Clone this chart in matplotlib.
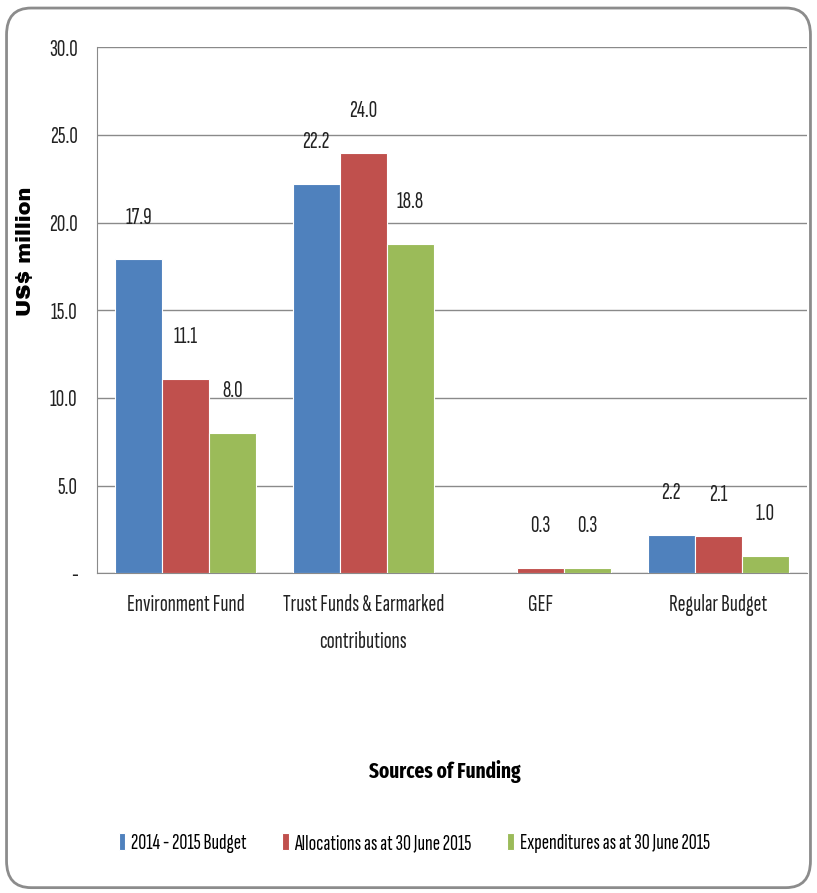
import numpy as np
import matplotlib.pyplot as plt
from matplotlib.patches import FancyBboxPatch

# data
categories = ['Environment Fund', 'Trust Funds & Earmarked\ncontributions', 'GEF', 'Regular Budget']
series_names = ['2014 - 2015 Budget', 'Allocations as at 30 June 2015', 'Expenditures as at 30 June 2015']
budget = [17.9, 22.2, 0.0, 2.2]
allocations = [11.1, 24.0, 0.3, 2.1]
expenditures = [8.0, 18.8, 0.3, 1.0]
# which bars carry a value label (GEF budget has none)
show_label = [[True, True, False, True], [True, True, True, True], [True, True, True, True]]
colors = ['#4F81BD', '#C0504D', '#9BBB59']

NARROW = ['Sofia Sans Extra Condensed', 'DejaVu Sans']
plt.rcParams['font.family'] = NARROW

fig = plt.figure(figsize=(8.17, 8.93), dpi=100)
fig.patch.set_facecolor('white')

# rounded outer frame like the excel chart area
frame = FancyBboxPatch((0.008, 0.006), 0.984, 0.985, boxstyle='round,pad=0,rounding_size=0.03',
                       transform=fig.transFigure, facecolor='none', edgecolor='#8c8c8c', linewidth=2)
fig.patches.append(frame)

ax = fig.add_axes([0.1187, 0.358, 0.869, 0.589])
x = np.arange(len(categories))
w = 0.265
all_series = [budget, allocations, expenditures]
for i, (vals, name, c) in enumerate(zip(all_series, series_names, colors)):
    pos = x + (i - 1) * w
    ax.bar(pos, vals, width=w, color=c, label=name, edgecolor='white', linewidth=0.8, zorder=3)
    for p, v, s in zip(pos, vals, show_label[i]):
        if s:
            ax.annotate(f'{v:.1f}', (p, v), xytext=(0, 30), textcoords='offset points',
                        ha='center', va='center', fontsize=17, color='#222222')

ax.set_xlim(-0.5, 3.5)
ax.set_ylim(0, 30)
yt = np.arange(0, 31, 5)
ax.set_yticks(yt)
ax.set_yticklabels(['-'] + [f'{t:.1f}' for t in yt[1:]], fontsize=17, color='#222222')
ax.set_xticks(x)
ax.set_xticklabels(categories, fontsize=17, linespacing=1.9, color='#222222')
ax.tick_params(axis='y', length=0, pad=14)
ax.tick_params(axis='x', length=0, pad=15)
ax.grid(axis='y', color='#8a8a8a', linewidth=1, zorder=0)
for s in ['top', 'right']:
    ax.spines[s].set_visible(False)
ax.spines['left'].set_color('#8a8a8a')
ax.spines['bottom'].set_color('#8a8a8a')

fig.text(0.031, 0.719, 'US$ million', rotation=90, ha='center', va='center',
         fontsize=15, family=['Archivo Black', 'DejaVu Sans'])
fig.text(0.545, 0.136, 'Sources of Funding', ha='center', va='center',
         fontsize=15, fontweight='bold', family=['Fira Sans Extra Condensed', 'DejaVu Sans'])

fig.legend(loc='center', bbox_to_anchor=(0.507, 0.056), ncol=3, frameon=False, fontsize=16,
           handlelength=0.3, handleheight=0.8, handletextpad=0.25, columnspacing=1.6)

fig.savefig('out.png', dpi=100)
